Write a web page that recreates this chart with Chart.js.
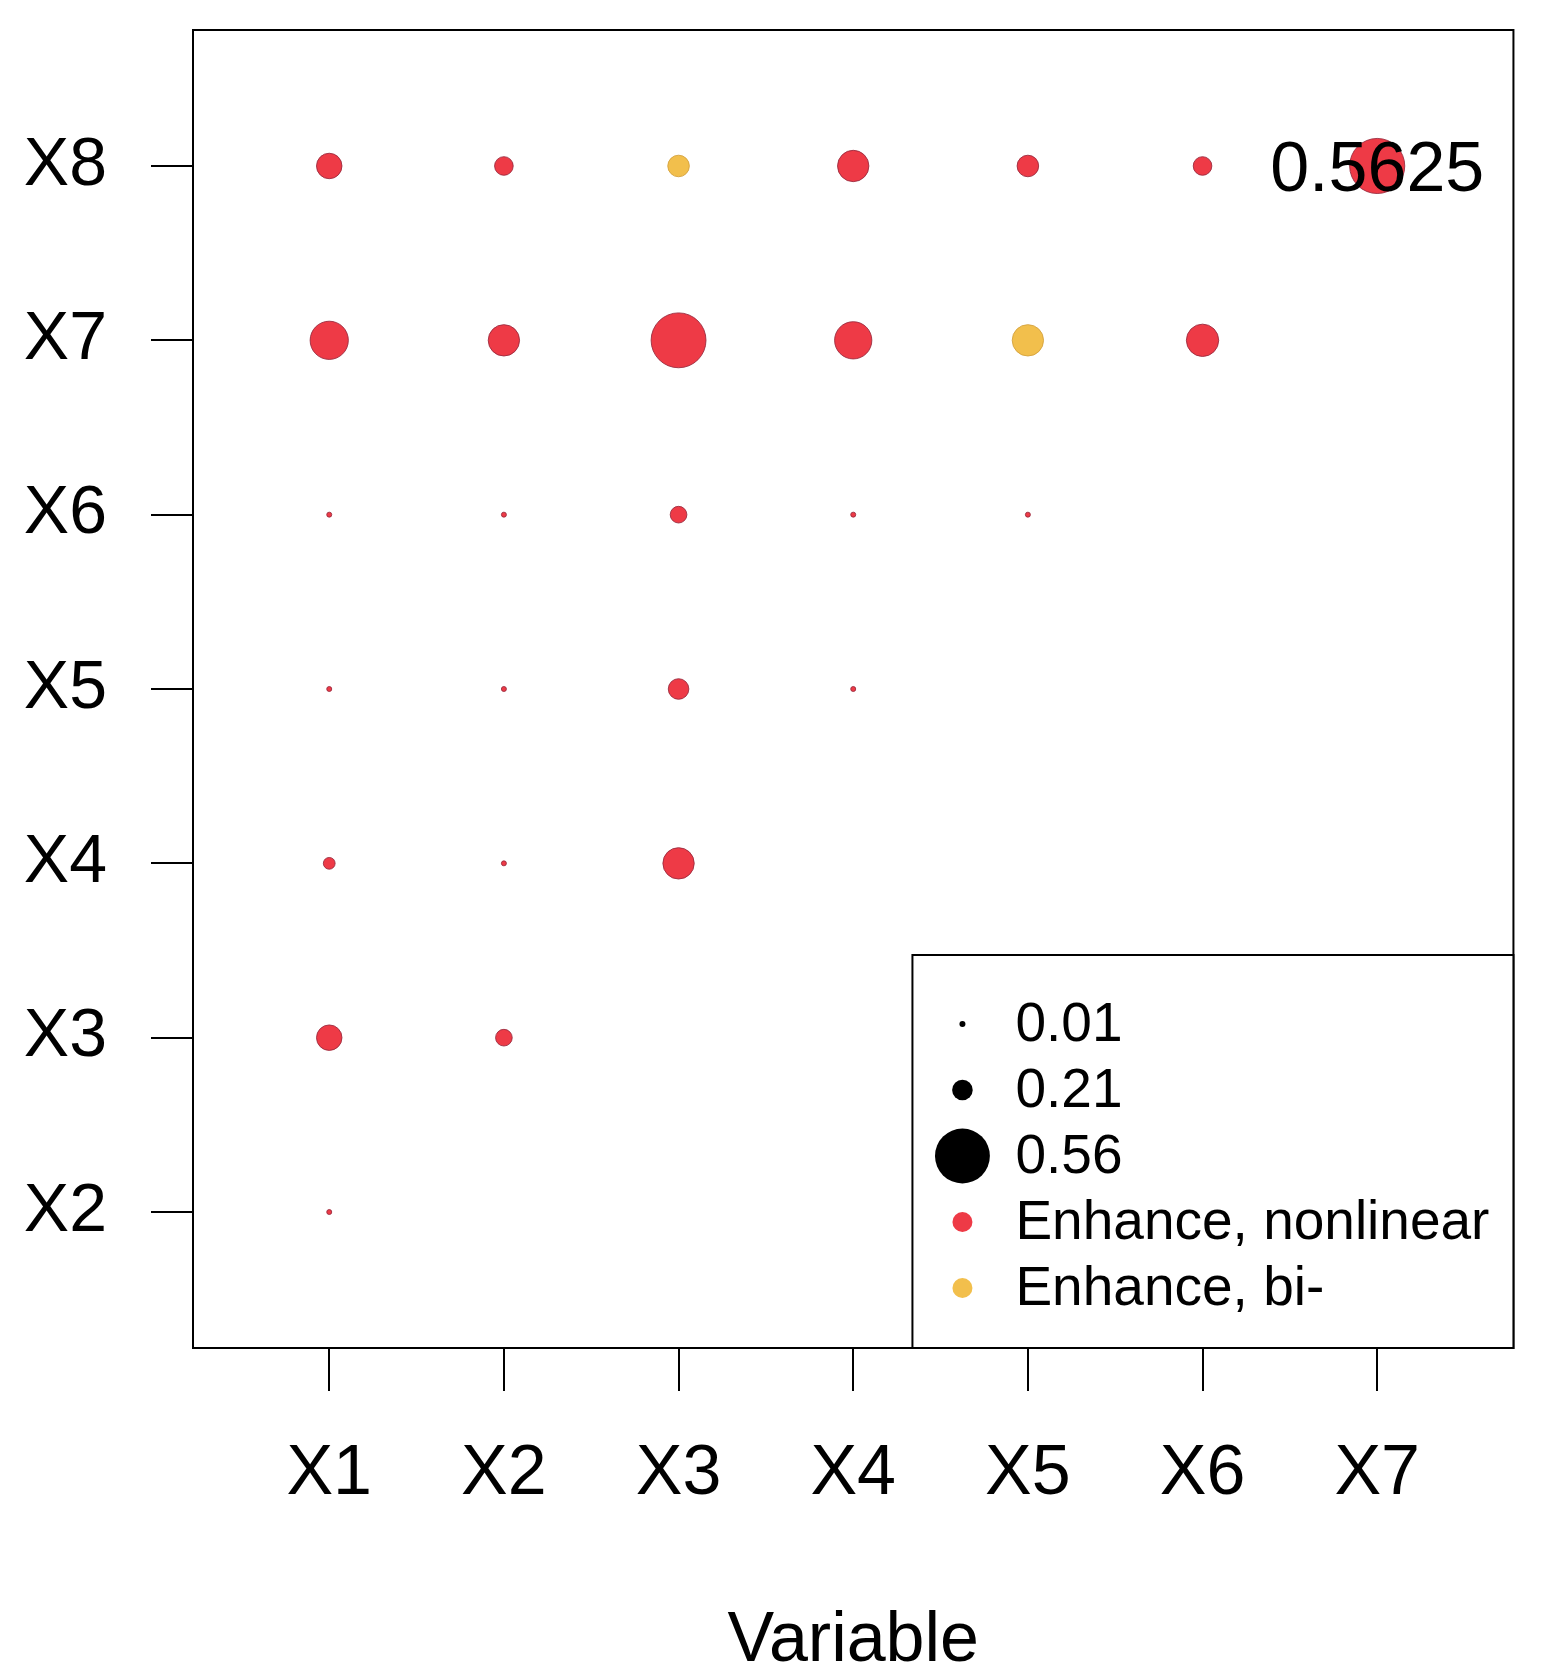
<!DOCTYPE html>
<html>
<head>
<meta charset="utf-8">
<script src="https://cdn.jsdelivr.net/npm/chart.js@4"></script>
<style>
  html, body { margin: 0; padding: 0; background: #fff; }
  #wrap { width: 1542px; height: 1677px; }
</style>
</head>
<body>
<div id="wrap"><canvas id="chart"></canvas></div>
<script>
const xLabels = ['X1', 'X2', 'X3', 'X4', 'X5', 'X6', 'X7'];
const yLabels = ['X2', 'X3', 'X4', 'X5', 'X6', 'X7', 'X8'];

// interaction strength per row variable, columns start at X1
const rowX8 = [0.26, 0.19, 0.22, 0.32, 0.22, 0.19, 0.5625];
const rowX7 = [0.39, 0.32, 0.56, 0.38, 0.32, 0.33];
const rowX6 = [0.02, 0.02, 0.17, 0.02, 0.02];
const rowX5 = [0.02, 0.02, 0.21, 0.02];
const rowX4 = [0.12, 0.02, 0.32];
const rowX3 = [0.26, 0.17];
const rowX2 = [0.02];

// pairs of type "Enhance, bi-", the rest are "Enhance, nonlinear"
const biPairs = [['X3', 'X8'], ['X5', 'X7']];

const sizeKeys = [0.01, 0.21, 0.56];
const typeNames = ['Enhance, nonlinear', 'Enhance, bi-'];
const typeColors = ['#EE3A46', '#F2BF4C'];
const typeBorders = ['rgba(150,40,60,0.85)', 'rgba(210,160,60,0.85)'];

const FONT = '"Liberation Sans", Arial, sans-serif';

function radius(v) {
    return Math.max(2.5, 49 * v);
}

const rows = { X8: rowX8, X7: rowX7, X6: rowX6, X5: rowX5, X4: rowX4, X3: rowX3, X2: rowX2 };
const nonlinearPts = [];
const biPts = [];
Object.keys(rows).forEach(function (rowName) {
    rows[rowName].forEach(function (v, i) {
        const pt = { x: i + 1, y: yLabels.indexOf(rowName) + 2, v: v };
        const isBi = biPairs.some(p => p[0] === xLabels[i] && p[1] === rowName);
        (isBi ? biPts : nonlinearPts).push(pt);
    });
});
const topPt = nonlinearPts.concat(biPts).reduce((a, b) => (b.v > a.v ? b : a));

const framePlugin = {
    id: 'frame',
    afterDatasetsDraw(chart) {
        const { ctx, chartArea: a, scales } = chart;
        ctx.save();

        // label on the strongest pair
        ctx.font = '70px ' + FONT;
        ctx.fillStyle = '#000';
        ctx.textAlign = 'center';
        ctx.textBaseline = 'middle';
        ctx.fillText(String(topPt.v), scales.x.getPixelForValue(topPt.x), scales.y.getPixelForValue(topPt.y) + 6);

        // plot box
        ctx.strokeStyle = '#000';
        ctx.lineWidth = 2;
        ctx.strokeRect(a.left, a.top, a.right - a.left, a.bottom - a.top);

        // legend box in the lower right corner
        const lx = a.right - 601;
        const ly = a.bottom - 393;
        ctx.fillStyle = '#fff';
        ctx.fillRect(lx, ly, a.right - lx, a.bottom - ly);
        ctx.strokeRect(lx, ly, a.right - lx, a.bottom - ly);

        const rowY = i => ly + 69 + i * 66;
        const dotX = lx + 50;
        const textX = lx + 103;
        ctx.font = '55px ' + FONT;
        ctx.textAlign = 'left';
        ctx.textBaseline = 'middle';
        sizeKeys.forEach(function (k, i) {
            ctx.fillStyle = '#000';
            ctx.beginPath();
            ctx.arc(dotX, rowY(i), Math.max(3, radius(k)), 0, Math.PI * 2);
            ctx.fill();
            ctx.fillText(k.toFixed(2), textX, rowY(i) + 2);
        });
        typeNames.forEach(function (name, j) {
            const yy = rowY(sizeKeys.length + j);
            ctx.fillStyle = typeColors[j];
            ctx.beginPath();
            ctx.arc(dotX, yy, 10, 0, Math.PI * 2);
            ctx.fill();
            ctx.fillStyle = '#000';
            ctx.fillText(name, textX, yy + 2);
        });
        ctx.restore();
    }
};

new Chart(document.getElementById('chart'), {
    type: 'scatter',
    data: {
        datasets: [
            {
                label: typeNames[0],
                data: nonlinearPts,
                backgroundColor: typeColors[0],
                borderColor: typeBorders[0],
                borderWidth: 1
            },
            {
                label: typeNames[1],
                data: biPts,
                backgroundColor: typeColors[1],
                borderColor: typeBorders[1],
                borderWidth: 1
            }
        ]
    },
    options: {
        responsive: true,
        maintainAspectRatio: false,
        animation: false,
        events: [],
        layout: { padding: { top: 30, right: 26, left: 0, bottom: 0 } },
        elements: {
            point: {
                radius: ctx => radius(ctx.raw.v),
                hoverRadius: ctx => radius(ctx.raw.v)
            }
        },
        scales: {
            x: {
                type: 'linear',
                min: 0.22,
                max: 7.78,
                afterBuildTicks: s => { s.ticks = xLabels.map((_, i) => ({ value: i + 1 })); },
                afterFit: s => { s.height = 329; s.paddingLeft = 0; s.paddingRight = 0; },
                ticks: {
                    callback: v => xLabels[Math.round(v) - 1],
                    color: '#000',
                    padding: 42,
                    maxRotation: 0,
                    font: { family: FONT, size: 70 }
                },
                grid: { drawOnChartArea: false, drawTicks: true, tickLength: 43, color: '#000', lineWidth: 2 },
                border: { display: false },
                title: {
                    display: true,
                    text: 'Variable',
                    color: '#000',
                    padding: { top: 0, bottom: 0 },
                    font: { family: FONT, size: 70, lineHeight: 1 }
                }
            },
            y: {
                type: 'linear',
                min: 1.22,
                max: 8.78,
                afterBuildTicks: s => { s.ticks = yLabels.map((_, i) => ({ value: i + 2 })); },
                afterFit: s => { s.width = 193; s.paddingTop = 0; s.paddingBottom = 0; },
                ticks: {
                    callback: v => yLabels[Math.round(v) - 2],
                    color: '#000',
                    padding: 44,
                    font: { family: FONT, size: 68 }
                },
                grid: { drawOnChartArea: false, drawTicks: true, tickLength: 42, color: '#000', lineWidth: 2 },
                border: { display: false }
            }
        },
        plugins: {
            legend: { display: false },
            tooltip: { enabled: false }
        }
    },
    plugins: [framePlugin]
});
</script>
</body>
</html>
